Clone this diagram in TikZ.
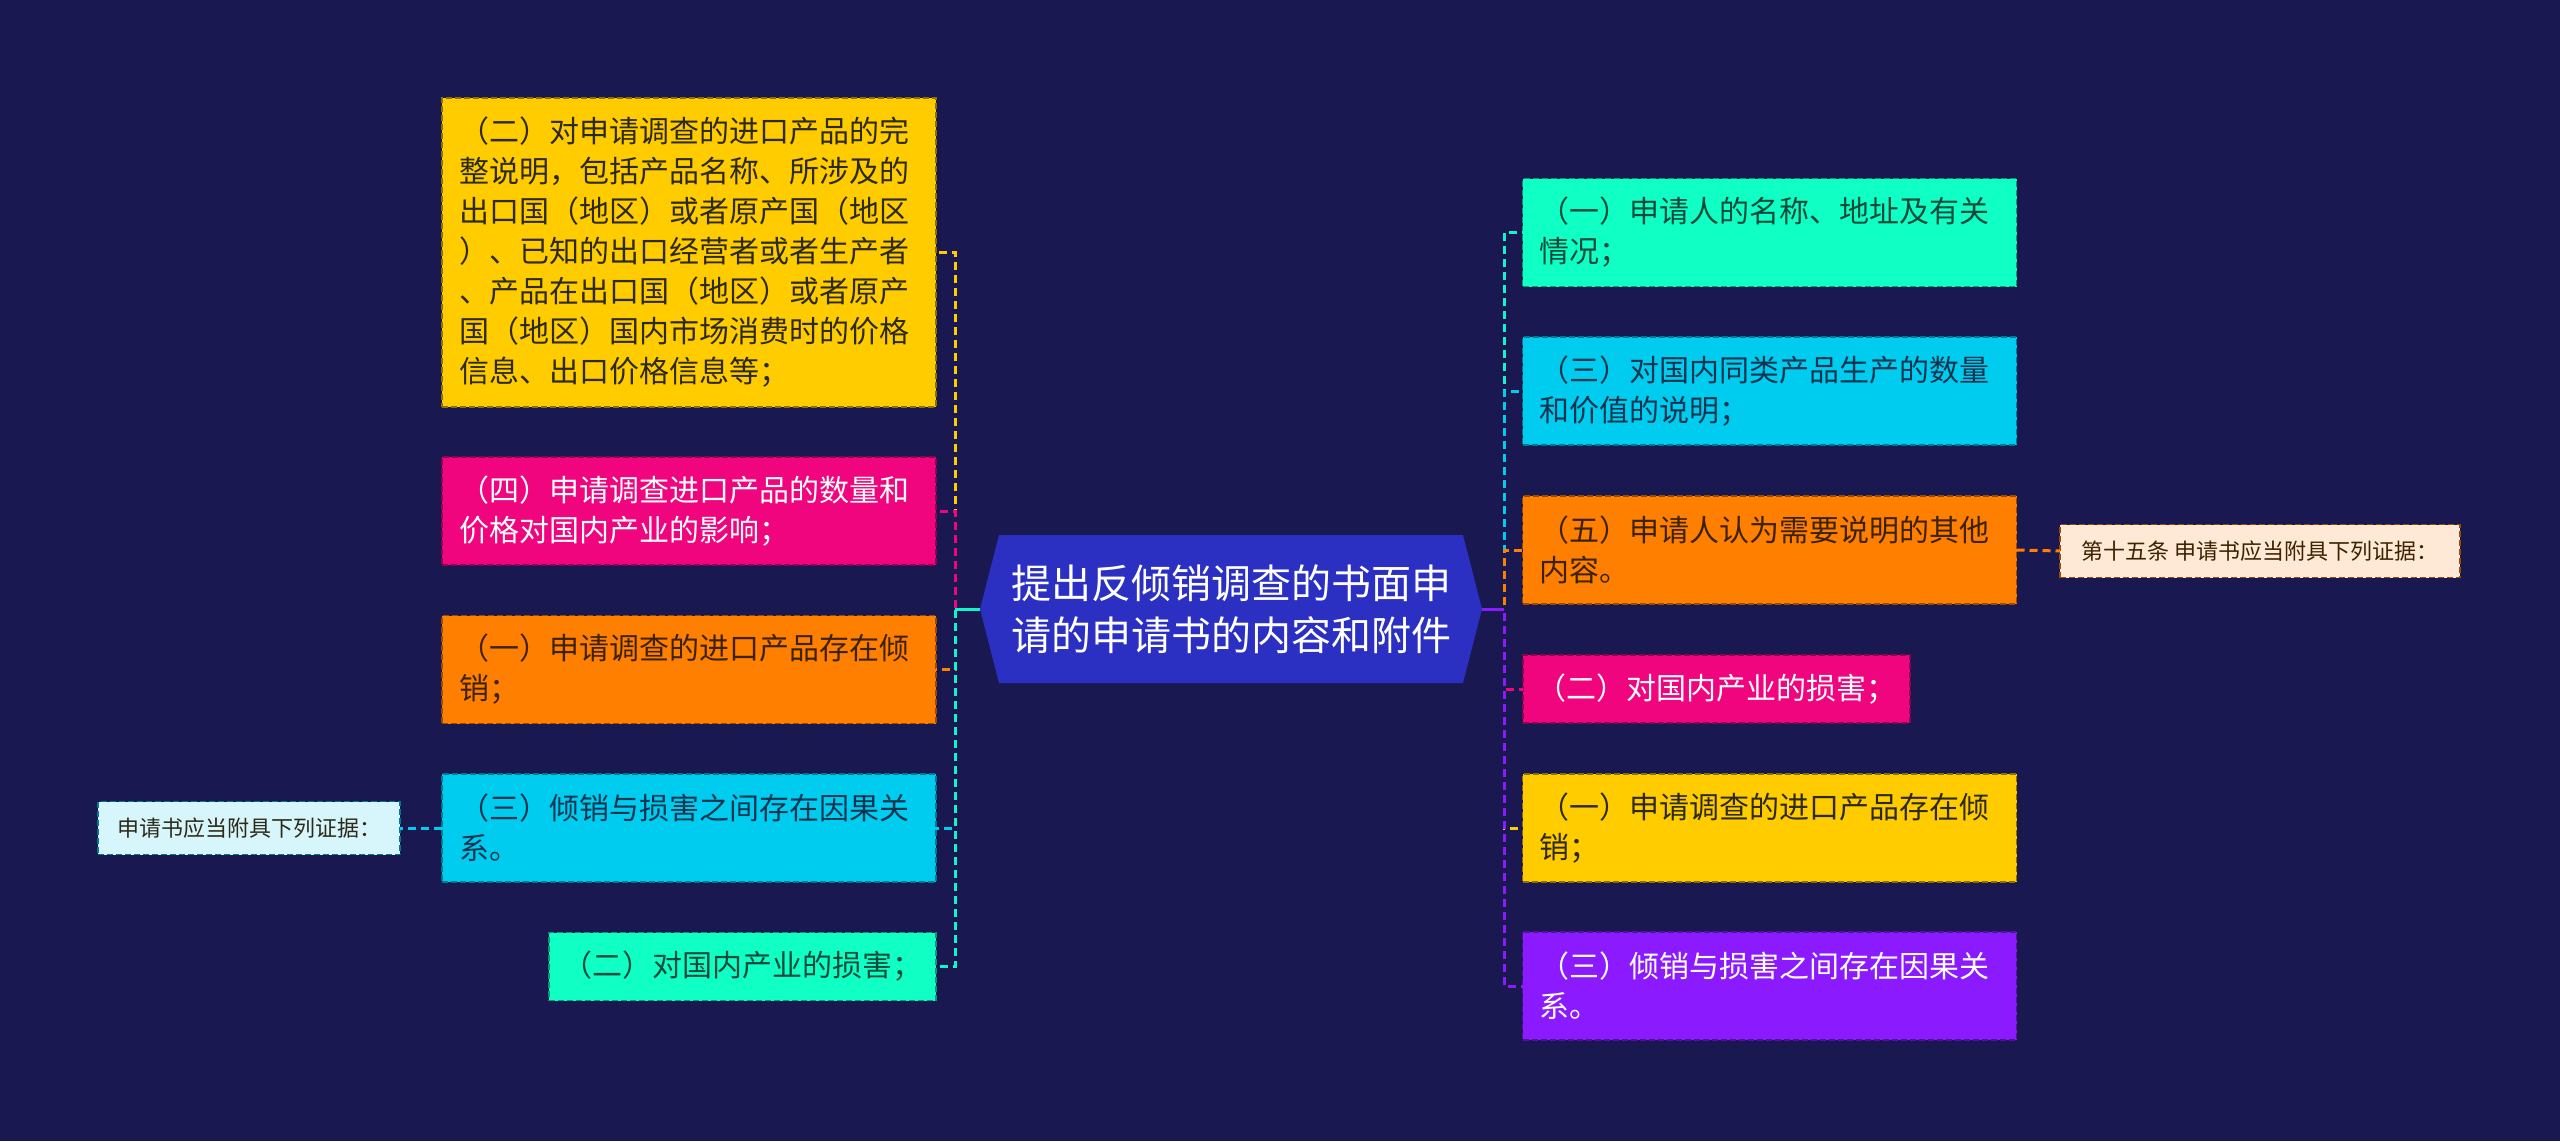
\documentclass[tikz,border=0pt]{standalone}
\usepackage{fontspec}
\newfontfamily\cjk{Noto Sans CJK SC}
\definecolor{bg}{HTML}{1A1850}
\definecolor{cyellow}{HTML}{FFCC00}
\definecolor{cpink}{HTML}{F0057E}
\definecolor{corange}{HTML}{FF7F00}
\definecolor{ccyan}{HTML}{00CCF0}
\definecolor{cmint}{HTML}{10FFC4}
\definecolor{cpurple}{HTML}{8B1AFF}
\definecolor{hexblue}{HTML}{2B30C2}
\definecolor{fleft}{HTML}{D6F6FC}
\definecolor{fright}{HTML}{FDE9D5}
\definecolor{tdark}{HTML}{2E2A1A}
\definecolor{tbrown}{HTML}{3D2200}
\definecolor{tmint}{HTML}{0E4A3C}
\definecolor{tcyan}{HTML}{0E3550}
\begin{document}
\begin{tikzpicture}[x=0.5pt,y=-0.5pt,
  box/.style={rectangle, line width=0.8pt, dash pattern=on 3pt off 1.5pt,
    inner xsep=8.5pt, inner ysep=3pt, align=left, text width=230pt,
    font=\cjk\fontsize{15}{20}\selectfont, outer sep=0pt},
  shortbox/.style={inner xsep=6.75pt, text width=180pt},
  twoline/.style={minimum height=54pt},
  oneline/.style={minimum height=34pt},
  yellowbox/.style={box, fill=cyellow, draw=cyellow!55!black, text=tdark},
  pinkbox/.style={box, fill=cpink, draw=cpink!60!black, text=white},
  orangebox/.style={box, fill=corange, draw=corange!60!black, text=tbrown},
  cyanbox/.style={box, fill=ccyan, draw=ccyan!60!black, text=tcyan},
  mintbox/.style={box, fill=cmint, draw=cmint!60!black, text=tmint},
  purplebox/.style={box, fill=cpurple, draw=cpurple!60!black, text=white},
  smallbox/.style={rectangle, line width=0.8pt, dash pattern=on 3pt off 1.5pt,
    align=center, inner sep=0pt, minimum height=26.5pt,
    font=\cjk\fontsize{11}{13}\selectfont, outer sep=0pt},
  hexnode/.style={rectangle, draw=none, minimum width=251pt, minimum height=74pt,
    inner sep=0pt, outer sep=0pt, align=center, text=white,
    font=\cjk\fontsize{20}{26}\selectfont,
    path picture={\fill[hexblue] (path picture bounding box.west)
      -- ([xshift=9.5pt]path picture bounding box.north west)
      -- ([xshift=-9.5pt]path picture bounding box.north east)
      -- (path picture bounding box.east)
      -- ([xshift=-9.5pt]path picture bounding box.south east)
      -- ([xshift=9.5pt]path picture bounding box.south west) -- cycle;}},
  link/.style={line width=1.5pt, dash pattern=on 4pt off 2.5pt}
]
\fill[bg] (0,0) rectangle (2560,1141);
\useasboundingbox (0,0) rectangle (2560,1141);

% centre
\node[hexnode] (c) at (1231,609) {提出反倾销调查的书面申\\请的申请书的内容和附件};

% left side
\node[yellowbox, minimum height=154.5pt] (L1) at (689,252.5)
 {（二）对申请调查的进口产品的完\\整说明，包括产品名称、所涉及的\\出口国（地区）或者原产国（地区\\）、已知的出口经营者或者生产者\\、产品在出口国（地区）或者原产\\国（地区）国内市场消费时的价格\\信息、出口价格信息等；};
\node[pinkbox, twoline] (L2) at (689,511) {（四）申请调查进口产品的数量和\\价格对国内产业的影响；};
\node[orangebox, twoline] (L3) at (689,669.5) {（一）申请调查的进口产品存在倾\\销；};
\node[cyanbox, twoline] (L4) at (689,828) {（三）倾销与损害之间存在因果关\\系。};
\node[mintbox, shortbox, oneline] (L5) at (742.5,966.5) {（二）对国内产业的损害；};
\node[smallbox, fill=fleft, draw=ccyan!60!black, text=tdark, minimum width=151pt] (F1) at (249,828) {申请书应当附具下列证据：};

% right side
\node[mintbox, twoline] (R1) at (1769.5,232.5) {（一）申请人的名称、地址及有关\\情况；};
\node[cyanbox, twoline] (R2) at (1769.5,391) {（三）对国内同类产品生产的数量\\和价值的说明；};
\node[orangebox, twoline] (R3) at (1769.5,550) {（五）申请人认为需要说明的其他\\内容。};
\node[pinkbox, shortbox, oneline] (R4) at (1716.5,689) {（二）对国内产业的损害；};
\node[yellowbox, twoline] (R5) at (1769.5,828) {（一）申请调查的进口产品存在倾\\销；};
\node[purplebox, twoline] (R6) at (1769.5,986) {（三）倾销与损害之间存在因果关\\系。};
\node[smallbox, fill=fright, draw=corange!60!black, text=tbrown, minimum width=200pt] (F2) at (2260,551) {第十五条 申请书应当附具下列证据：};

% connectors left
\draw[link, cyellow] (c.west) -- ++(-25,0) |- (L1.east);
\draw[link, cpink] (c.west) -- ++(-25,0) |- (L2.east);
\draw[link, corange] (c.west) -- ++(-25,0) |- (L3.east);
\draw[link, ccyan] (c.west) -- ++(-25,0) |- (L4.east);
\draw[link, cmint!85!ccyan] (c.west) -- ++(-25,0) |- (L5.east);
\draw[line width=1.5pt, cmint!85!ccyan] (c.west) -- ++(-25,0);
\draw[link, ccyan] (L4.west) -- (F1.east);

% connectors right
\draw[link, cmint!85!ccyan] (c.east) -- ++(22,0) |- (R1.west);
\draw[link, ccyan] (c.east) -- ++(22,0) |- (R2.west);
\draw[link, corange] (c.east) -- ++(22,0) |- (R3.west);
\draw[link, cpink] (c.east) -- ++(22,0) |- (R4.west);
\draw[link, cyellow] (c.east) -- ++(22,0) |- (R5.west);
\draw[link, cpurple] (c.east) -- ++(22,0) |- (R6.west);
\draw[line width=1.5pt, cpurple] (c.east) -- ++(22,0);
\draw[link, corange] (R3.east) -- (F2.west);
\end{tikzpicture}
\end{document}
